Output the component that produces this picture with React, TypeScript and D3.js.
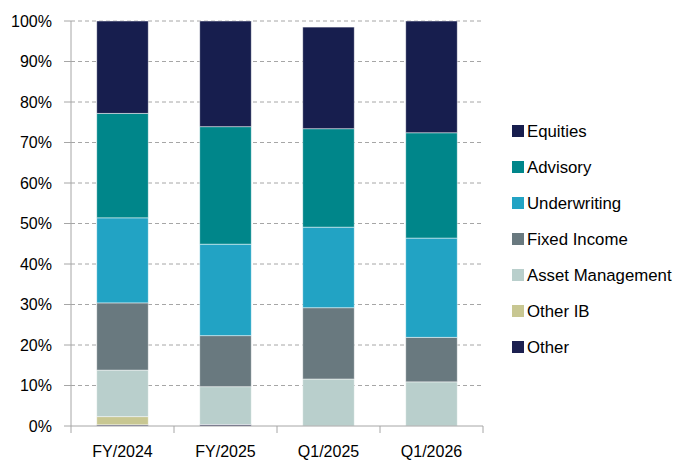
import React from 'react';
import * as d3 from 'd3';

const categories = ['FY/2024', 'FY/2025', 'Q1/2025', 'Q1/2026'];
const seriesNames = ['Other', 'Other IB', 'Asset Management', 'Fixed Income', 'Underwriting', 'Advisory', 'Equities'];
const other = [0.3, 0.4, 0, 0];
const otherIB = [2.0, 0, 0, 0];
const assetMgmt = [11.5, 9.3, 11.6, 10.9];
const fixedIncome = [16.6, 12.6, 17.6, 11.0];
const underwriting = [21.0, 22.6, 19.9, 24.5];
const advisory = [25.8, 29.0, 24.3, 26.0];
const equities = [22.8, 26.1, 25.1, 27.6];
const yTicks = [0, 10, 20, 30, 40, 50, 60, 70, 80, 90, 100];

const colors: Record<string, string> = {
  'Equities': '#171e4e',
  'Advisory': '#00868a',
  'Underwriting': '#22a3c4',
  'Fixed Income': '#69797f',
  'Asset Management': '#b9cfcc',
  'Other IB': '#c8c792',
  'Other': '#1c2050',
};
const legendOrder = ['Equities', 'Advisory', 'Underwriting', 'Fixed Income', 'Asset Management', 'Other IB', 'Other'];

const W = 678;
const H = 461;
const left = 71;
const right = 483;
const top = 21;
const bottom = 426;
const font = '"Liberation Sans", Arial, sans-serif';

export default function App() {
  const valuesBySeries = [other, otherIB, assetMgmt, fixedIncome, underwriting, advisory, equities];
  const rows = categories.map((c, i) => {
    const r: Record<string, number | string> = { cat: c };
    seriesNames.forEach((s, k) => { r[s] = valuesBySeries[k][i]; });
    return r;
  });
  const stacked = d3.stack<Record<string, number | string>>().keys(seriesNames)(rows as any);

  const x = d3.scaleBand().domain(categories).range([left, right]).paddingInner(0.5).paddingOuter(0.25);
  const y = d3.scaleLinear().domain([0, 100]).range([bottom, top]);
  const step = x.step();

  return (
    <svg width={W} height={H} style={{ position: 'absolute', left: 0, top: 0, background: '#fff' }}>
      {yTicks.map(t => (
        <g key={t}>
          {t > 0 && (
            <line x1={left} x2={right} y1={y(t)} y2={y(t)} stroke="#a6a6a6" strokeWidth={1} strokeDasharray="4,3" />
          )}
          <line x1={left - 7} x2={left} y1={y(t)} y2={y(t)} stroke="#a6a6a6" />
          <text x={52} y={y(t)} dy="0.35em" textAnchor="end" fontFamily={font} fontSize={16} fill="#000">{t}%</text>
        </g>
      ))}
      {stacked.map(layer => (
        <g key={layer.key}>
          {layer.map((d, i) => {
            const h = y(d[0]) - y(d[1]);
            if (h <= 0) return null;
            return (
              <rect key={i} x={x(categories[i])} y={y(d[1])} width={x.bandwidth()} height={h}
                fill={colors[layer.key]} stroke="#ffffff" strokeOpacity={0.6} strokeWidth={0.8} />
            );
          })}
        </g>
      ))}
      <line x1={left} x2={left} y1={top} y2={bottom} stroke="#a6a6a6" />
      <line x1={left} x2={right} y1={bottom} y2={bottom} stroke="#a6a6a6" />
      {d3.range(categories.length + 1).map(i => (
        <line key={i} x1={left + i * step} x2={left + i * step} y1={bottom} y2={bottom + 7} stroke="#a6a6a6" />
      ))}
      {categories.map(c => (
        <text key={c} x={(x(c) as number) + x.bandwidth() / 2} y={457} textAnchor="middle" fontFamily={font} fontSize={16} fill="#000">{c}</text>
      ))}
      {legendOrder.map((s, i) => (
        <g key={s} transform={`translate(512, ${131 + i * 36})`}>
          <rect x={0} y={-6} width={12} height={12} fill={colors[s]} />
          <text x={15} y={0} dy="0.35em" fontFamily={font} fontSize={16.8} fill="#000">{s}</text>
        </g>
      ))}
    </svg>
  );
}
